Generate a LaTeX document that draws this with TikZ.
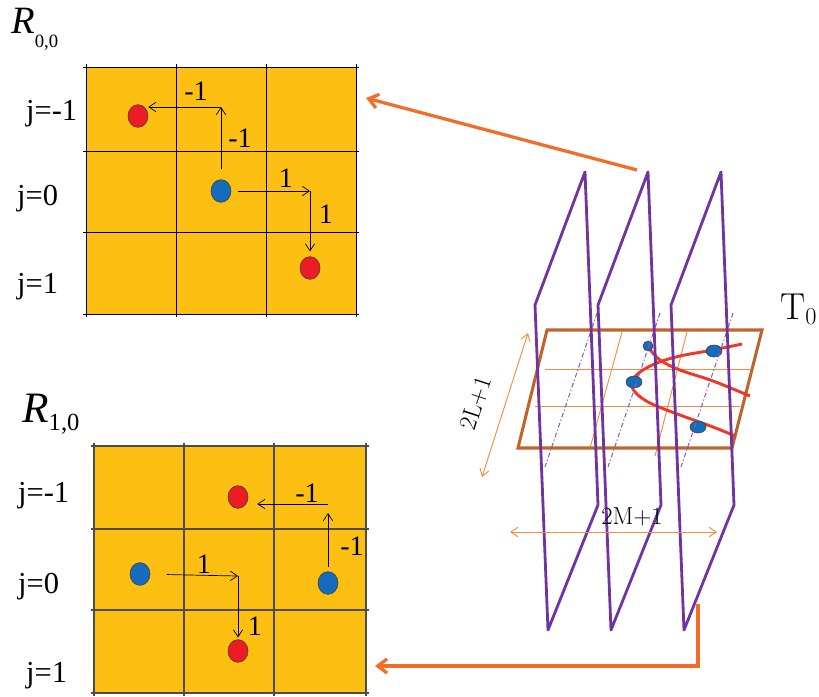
\documentclass[tikz,border=0pt]{standalone}
\usepackage{fontspec}
\usepackage{tikz}
\usetikzlibrary{positioning,arrows.meta,shapes.geometric}
\newfontfamily\tnr{Liberation Serif}
\definecolor{cellfill}{RGB}{252,191,18}
\definecolor{dotred}{RGB}{237,28,36}
\definecolor{dotblue}{RGB}{22,108,188}
\definecolor{planepurple}{RGB}{112,52,160}
\definecolor{slabbrown}{RGB}{192,100,45}
\definecolor{thinorange}{RGB}{247,140,60}
\definecolor{feedorange}{RGB}{242,110,40}
\definecolor{curvered}{RGB}{240,55,40}

\begin{document}
\begin{tikzpicture}[x=0.03cm,y=-0.03cm,>={Straight Barb[length=6pt,width=8pt]}]
  \useasboundingbox (0,0) rectangle (819,696);
  \tikzset{
    dot/.style={ellipse,draw=black!75,line width=0.5pt,minimum width=0.6cm,
      minimum height=0.68cm,inner sep=0pt},
    reddot/.style={dot,fill=dotred},
    bluedot/.style={dot,fill=dotblue},
    slabdot/.style={dot,fill=dotblue,minimum width=0.48cm,minimum height=0.36cm},
    hop/.style={->,line width=0.6pt},
    hoplab/.style={font=\tnr\fontsize{24}{24}\selectfont,anchor=base},
    rowlab/.style={font=\tnr\fontsize{26}{26}\selectfont,anchor=base west},
    plane/.style={planepurple,line width=2.4pt,line join=round},
    cut/.style={planepurple!80,line width=0.9pt,dash pattern=on 4pt off 2pt on 1pt off 2pt},
    dim/.style={<->,thinorange,line width=0.8pt},
    dimlab/.style={font=\fontsize{21}{21}\selectfont},
    feed/.style={-{Straight Barb[length=8pt,width=12pt]},feedorange,line width=2.8pt}
  }

  % R_{0,0}
  \node[anchor=base west,inner sep=0pt] (name00) at (11,33)
    {\tnr\fontsize{33}{33}\selectfont\itshape R\raisebox{-12pt}{\fontsize{16}{16}\selectfont\upshape 0,0}};
  \fill[cellfill] (86,67) rectangle (356,314);
  \foreach \x in {86,176,266,356} \draw[line width=0.7pt] (\x,64) -- (\x,317);
  \foreach \y in {67,151,232,314} \draw[line width=0.7pt] (83,\y) -- (359,\y);
  \node[rowlab] (row00a) at (22,120) {j=-1};
  \node[rowlab] (row00b) at (13,205) {j=0};
  \node[rowlab] (row00c) at (13,293) {j=1};

  \node[bluedot] (b00) at (221,191) {};
  \node[reddot] (r00a) at (138,116) {};
  \node[reddot] (r00b) at (310,268) {};
  \coordinate (k00a) at (221,107);
  \coordinate (k00b) at (310,191);
  \draw[hop,shorten <=0.3cm] (b00) -- (k00a);
  \draw[hop] (k00a) -- (k00a -| r00a.east);
  \draw[hop,shorten <=0.21cm] (b00) -- (k00b);
  \draw[hop,shorten >=0.15cm] (k00b) -- (r00b);
  \node[hoplab] (h00a) at (196,100) {-1};
  \node[hoplab] (h00b) at (240,147) {-1};
  \node[hoplab] (h00c) at (286,187) {1};
  \node[hoplab] (h00d) at (326,223) {1};

  % R_{1,0}
  \node[anchor=base west,inner sep=0pt] (name10) at (22,422)
    {\tnr\fontsize{37}{37}\selectfont\itshape R\raisebox{-7pt}{\fontsize{21}{21}\selectfont\upshape 1,0}};
  \fill[cellfill] (94,446) rectangle (366,693);
  \foreach \x in {94,184,274,366} \draw[black!70,line width=1.1pt] (\x,443) -- (\x,696);
  \foreach \y in {446,529,610,693} \draw[black!70,line width=1.1pt] (91,\y) -- (369,\y);
  \node[rowlab] (row10a) at (14,502) {j=-1};
  \node[rowlab] (row10b) at (14,593) {j=0};
  \node[rowlab] (row10c) at (22,682) {j=1};

  \node[reddot] (r10a) at (238,497) {};
  \node[bluedot] (b10a) at (140,574) {};
  \node[bluedot] (b10b) at (328,583) {};
  \node[reddot] (r10b) at (238,651) {};
  \coordinate (k10a) at (238,576);
  \coordinate (k10b) at (328,504);
  \draw[hop,shorten <=0.5cm] (b10a) -- (k10a);
  \draw[hop,shorten >=0.06cm] (k10a) -- (r10b);
  \draw[hop,shorten <=0.12cm,shorten >=0.27cm] (b10b) -- (k10b);
  \draw[hop,shorten >=0.27cm] (k10b) -- (k10b -| r10a.east);
  \node[hoplab] (h10a) at (204,573) {1};
  \node[hoplab] (h10b) at (255,635) {1};
  \node[hoplab] (h10c) at (307,502) {-1};
  \node[hoplab] (h10d) at (352,555) {-1};

  % slab T_0 with its grid
  \draw[thinorange,line width=0.8pt] (545,369) -- (750,369);
  \draw[thinorange,line width=0.8pt] (535,406) -- (740,406);
  \draw[thinorange,line width=0.8pt] (622,332) -- (590,448);
  \draw[thinorange,line width=0.8pt] (687,332) -- (655,456);
  \draw[slabbrown,line width=2.6pt,line join=miter]
    (547,330) -- (762,330) -- (732,448) -- (518,448) -- cycle;
  \node[anchor=base west,inner sep=0pt] (t0) at (780,319)
    {\fontsize{32}{32}\selectfont$\mathrm{T}_0$};

  % tracks on the slab
  \draw[curvered,line width=2.5pt] plot[smooth,tension=0.6] coordinates
    {(742,344) (713,350) (680,356) (657,363) (640,372) (632,382) (635,392)
     (650,403) (680,415) (713,427) (735,436)};
  \draw[curvered,line width=2.5pt] plot[smooth,tension=0.6] coordinates
    {(648,347) (660,360) (680,370) (713,381) (750,396)};
  \node[slabdot,minimum width=0.3cm,minimum height=0.3cm] (s1) at (648,346) {};
  \node[slabdot] (s2) at (714,351) {};
  \node[slabdot] (s3) at (634,382) {};
  \node[slabdot] (s4) at (698,427) {};

  % planes
  \foreach \px/\py in {535/305,598/305,671/305} {
    \draw[cut] (\px+62,\py+8) -- (\px+10,\py+162);
    \draw[plane] (\px+50,\py-133) -- (\px,\py) -- (\px+13,\py+325)
      -- (\px+63,\py+200) -- cycle;
  }

  % sizes
  \coordinate (la) at (482,477);
  \coordinate (lb) at (528,333);
  \draw[dim] (la) -- (lb);
  \node[dimlab,rotate=72] (llab) at (476,403) {2L+1};
  \coordinate (ma) at (510,532);
  \coordinate (mb) at (717,532);
  \draw[dim] (ma) -- (mb);
  \node[dimlab] (mlab) at (632,517) {2M+1};

  % links to the grids
  \coordinate (feed00) at (637,170);
  \coordinate (into00) at (366,98);
  \draw[feed] (feed00) -- (into00);
  \coordinate (feed10) at (698,604);
  \coordinate (into10) at (375,666);
  \draw[feed] (feed10) |- (into10);
\end{tikzpicture}
\end{document}
